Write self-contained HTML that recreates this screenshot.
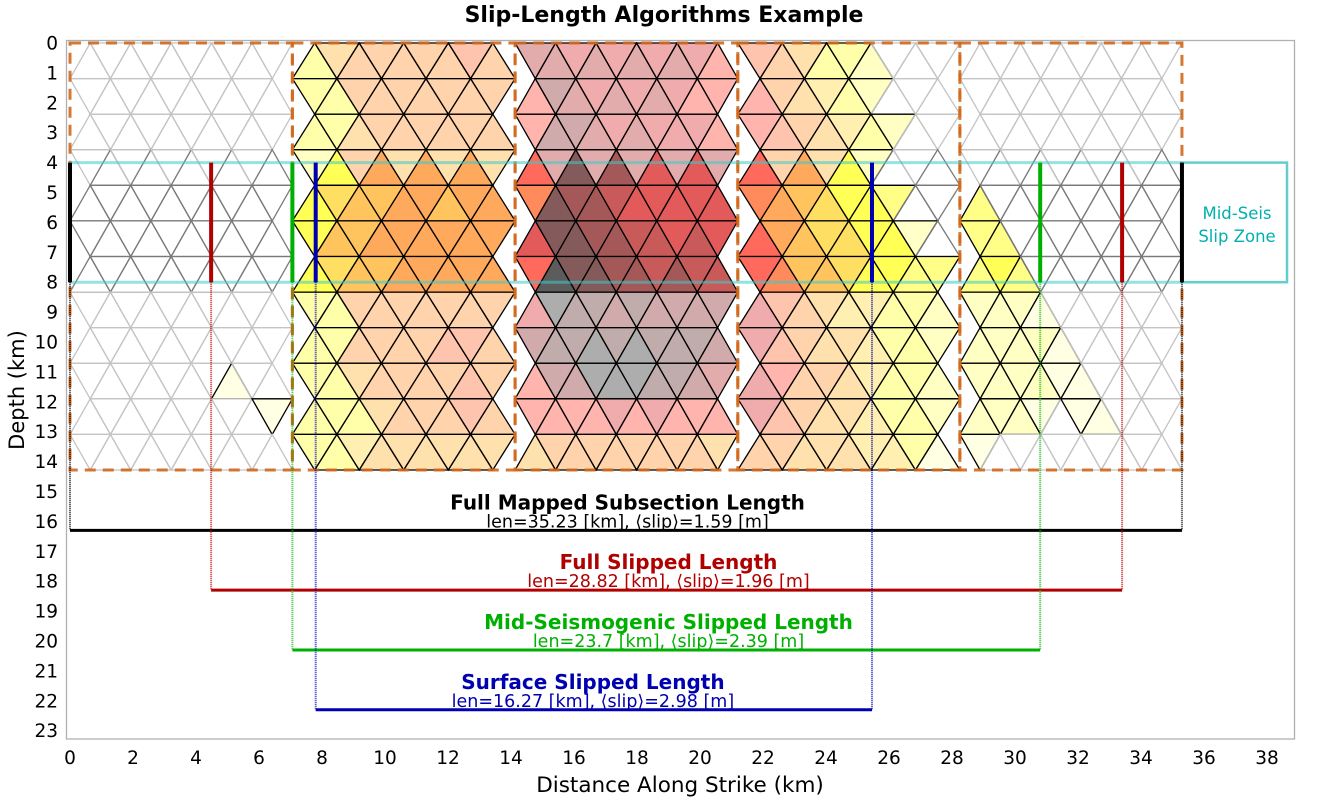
<!DOCTYPE html>
<html><head><meta charset="utf-8"><style>
body{margin:0;background:#fff;}
svg{display:block;font-family:"DejaVu Sans","Liberation Sans",sans-serif;}
</style></head><body>
<svg id="chart" width="1329" height="800" viewBox="0 0 1329 800" xmlns="http://www.w3.org/2000/svg">
<rect x="0" y="0" width="1329" height="800" fill="#fff"/>
<text x="664" y="22" text-anchor="middle" font-size="22" font-weight="bold">Slip-Length Algorithms Example</text>
<rect x="66.5" y="40.5" width="1228" height="698.5" fill="none" stroke="#b0b0b0" stroke-width="1.3"/>
<g id="tris"></g>
<g id="overlay"></g>
<g id="ticks"></g>
<text transform="translate(24,390) rotate(-90)" text-anchor="middle" font-size="21">Depth (km)</text>
<text x="680" y="792" text-anchor="middle" font-size="21.5">Distance Along Strike (km)</text>
</svg>
<script>
const NS='http://www.w3.org/2000/svg';
// ---- data ----
const xTicks=[0,2,4,6,8,10,12,14,16,18,20,22,24,26,28,30,32,34,36,38];
const yTicks=[0,1,2,3,4,5,6,7,8,9,10,11,12,13,14,15,16,17,18,19,20,21,22,23];
const sectionStartKm=[0,7.06,14.13,21.2,28.25];
const sectionEndKm=[7.06,14.13,21.2,28.25,35.3];
const sectionType=['A','B','C','D','A'];
const sectionBottomKm=14.28;
const rowCount=12;
const zoneTopKm=4, zoneBottomKm=8;
const sec1Rows=['..........','..........','..........','..........','..........','..........','..........','..........','..........','.......1..','.........1','..........'];
const sec2Rows=['356666676','336666666','335666666','236656565','345566566','355666666','345566666','336666666','336666776','335666676','333566676','334555555'];
const sec3Rows=['AA9A9A9A98','8BA9A9A988','8BBA9A9998','8ACABA9A9A','7CBBA99999','9CCBBAA9A9','8DCCBBABAA','9DCCBCBBBB','BCCDCDCCCB','8BBDDDCCBA','8888989888','5666666665'];
const sec4Rows=['765332...','865432...','8765432..','866532...','7654332..','86544331.','875543322','976544332','976554332','986654332','976554332','665554431'];
const sec5Rows=['..........','..........','..........','..........','2.........','22........','232.......','2221......','22221.....','222211....','2221.11...','1.........'];
const sectionRows=[sec1Rows,sec2Rows,sec3Rows,sec4Rows,sec5Rows];
const levelKeys='123456789ABCD';
const levelColors=['#ffffc8','#ffff88','#ffff55','#ffdf62','#ffc45e','#ffa95c','#ff8a5c','#ff6a5c','#e25a5a','#c85a5a','#a45858','#845a5a','#5c5c5c'];
const lenNames=['Full Mapped Subsection Length','Full Slipped Length','Mid-Seismogenic Slipped Length','Surface Slipped Length'];
const lenStartKm=[0,4.48,7.06,7.8];
const lenEndKm=[35.3,33.4,30.8,25.46];
const lenBarDepth=[16.3,18.3,20.3,22.3];
const lenValues=['35.23','28.82','23.7','16.27'];
const slipValues=['1.59','1.96','2.39','2.98'];
const lenColors=['#000000','#b00000','#00b000','#0000b0'];
const lenLabelKm=[17.7,19,19,16.6];
// ---- scales ----
const xs=km=>70+km*31.5;
const ys=d=>43+d*29.9;
const tris=document.getElementById('tris');
const ov=document.getElementById('overlay');
const tk=document.getElementById('ticks');
function mk(tag,attrs,parent){const e=document.createElementNS(NS,tag);for(const k in attrs)e.setAttribute(k,attrs[k]);parent.appendChild(e);return e;}
// ---- triangles ----
const rowH=sectionBottomKm/rowCount;
sectionRows.forEach((rows,s)=>{
  const x0=xs(sectionStartKm[s]),x1=xs(sectionEndKm[s]);
  const t=sectionType[s];
  const W=x1-x0; const d=(t==='A'||t==='C')?W/5.5:W/5;
  let T0,B0;
  if(t==='A'){T0=[1,3,5,7,9,11];B0=[0,2,4,6,8,10];}
  else if(t==='B'){T0=[1,3,5,7,9];B0=[0,2,4,6,8,10];}
  else if(t==='C'){T0=[0,2,4,6,8,10];B0=[1,3,5,7,9,11];}
  else {T0=[0,2,4,6,8,10];B0=[1,3,5,7,9];}
  for(let r=0;r<rowCount;r++){
    const T=r%2===0?T0:B0, B=r%2===0?B0:T0;
    const list=[];
    T.forEach(v=>{ if(B.includes(v-1)&&B.includes(v+1)) list.push({c:v,up:true}); });
    T.forEach(v=>{ if(T.includes(v+2)&&B.includes(v+1)) list.push({c:v+1,up:false,t:v}); });
    list.sort((a,b)=>a.c-b.c);
    const yt=ys(r*rowH), yb=ys((r+1)*rowH);
    const hx=u=>x0+u*d/2;
    list.forEach((tr,i)=>{
      let pts, cenD;
      if(tr.up){pts=[[hx(tr.c),yt],[hx(tr.c-1),yb],[hx(tr.c+1),yb]];cenD=(r+2/3)*rowH;}
      else {pts=[[hx(tr.t),yt],[hx(tr.t+2),yt],[hx(tr.t+1),yb]];cenD=(r+1/3)*rowH;}
      const inZone=cenD>=zoneTopKm&&cenD<=zoneBottomKm;
      const ch=rows[r][i]||'.';
      const li=levelKeys.indexOf(ch);
      const p=mk('polygon',{points:pts.map(q=>q[0].toFixed(1)+','+q[1].toFixed(1)).join(' ')},tris);
      
      
      if(li>=0){
        p.setAttribute('fill',levelColors[li]);
        p.setAttribute('fill-opacity',inZone?1:0.5);
        p.setAttribute('stroke','#000');p.setAttribute('stroke-width','1.3');
      } else {
        p.setAttribute('fill','none');
        p.setAttribute('stroke',inZone?'#7a7a7a':'#c4c4c4');p.setAttribute('stroke-width','1.3');
      }
    });
  }
});
// ---- subsection dashed boxes ----
sectionStartKm.forEach((a,s)=>{
  const r=mk('rect',{x:xs(a),y:ys(0),width:xs(sectionEndKm[s])-xs(a),height:ys(sectionBottomKm)-ys(0),fill:'none',stroke:'#d2691e','stroke-width':3,'stroke-dasharray':'11,7','stroke-opacity':0.9},ov);
  
  
});
// ---- mid-seis zone ----
[zoneTopKm,zoneBottomKm].forEach(z=>{
  const l=mk('line',{x1:xs(0),x2:xs(35.3),y1:ys(z),y2:ys(z),stroke:'#40c8c8','stroke-width':3,'stroke-opacity':0.55},ov);
  
  
});
const zb=mk('rect',{x:xs(35.3),y:ys(zoneTopKm),width:1287-xs(35.3),height:ys(zoneBottomKm)-ys(zoneTopKm),fill:'none',stroke:'#30bcbc','stroke-width':2.5,'stroke-opacity':0.75},ov);


const zt1=mk('text',{x:1237,y:219,'text-anchor':'middle','font-size':16.5,fill:'#00b0b0'},ov);zt1.textContent='Mid-Seis';


const zt2=mk('text',{x:1237,y:242,'text-anchor':'middle','font-size':16.5,fill:'#00b0b0'},ov);zt2.textContent='Slip Zone';


// ---- length markers ----
lenNames.forEach((n,i)=>{
  const c=lenColors[i], yb=ys(lenBarDepth[i]);
  [lenStartKm[i],lenEndKm[i]].forEach(k=>{
    const v=mk('line',{x1:xs(k),x2:xs(k),y1:ys(zoneTopKm),y2:ys(zoneBottomKm),stroke:c,'stroke-width':4},ov);
    
    
    const dl=mk('line',{x1:xs(k),x2:xs(k),y1:ys(zoneBottomKm),y2:yb,stroke:c,'stroke-width':2,'stroke-dasharray':'1,1','stroke-opacity':0.8},ov);
    
    
  });
  const b=mk('line',{x1:xs(lenStartKm[i]),x2:xs(lenEndKm[i]),y1:yb,y2:yb,stroke:c,'stroke-width':3},ov);
  
  
  const t1=mk('text',{x:xs(lenLabelKm[i]),y:yb-21,'text-anchor':'middle','font-size':20,'font-weight':'bold',fill:c},ov);
  t1.textContent=n;
  
  
  const t2=mk('text',{x:xs(lenLabelKm[i]),y:yb-3,'text-anchor':'middle','font-size':17.5,fill:c},ov);
  t2.textContent='len='+lenValues[i]+' [km], \u27E8slip\u27E9='+slipValues[i]+' [m]';
  
  
});
// ---- ticks ----
xTicks.forEach(v=>{
  const t=mk('text',{x:xs(v),y:764,'text-anchor':'middle','font-size':18.5},tk);t.textContent=v;
  
  
});
yTicks.forEach(v=>{
  const t=mk('text',{x:58,y:ys(v)+6.5,'text-anchor':'end','font-size':18.5},tk);t.textContent=v;
  
  
});
</script>
</body></html>
